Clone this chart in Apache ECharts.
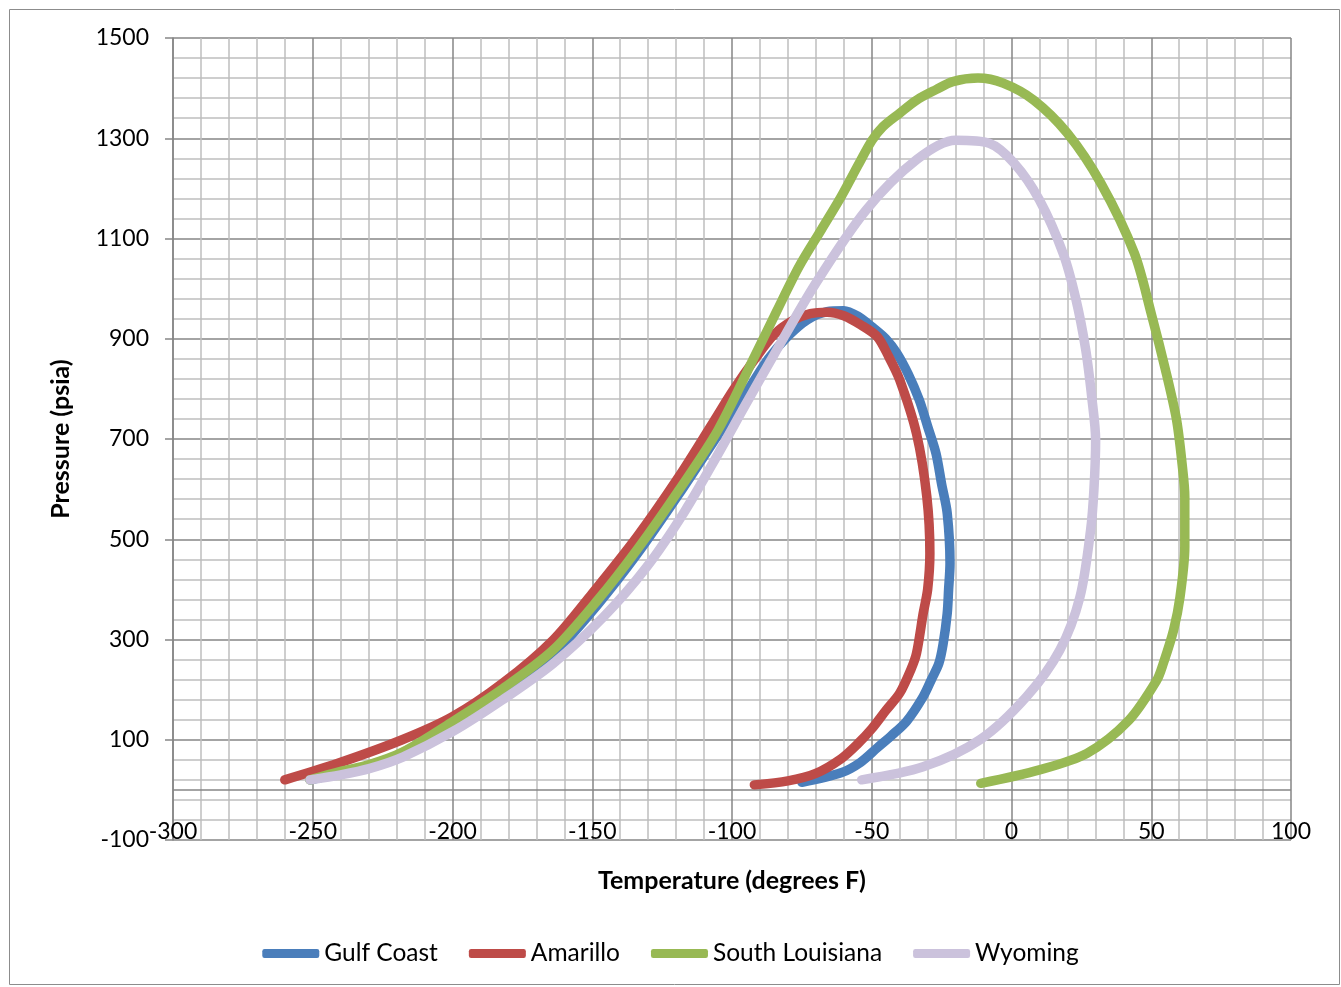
<!DOCTYPE html>
<html>
<head>
<meta charset="utf-8">
<script src="https://cdn.jsdelivr.net/npm/echarts@6/dist/echarts.min.js"></script>
<style>
html,body{margin:0;padding:0;background:#fff;}
#chart{width:1341px;height:987px;}
</style>
</head>
<body>
<div id="chart"></div>
<script>
var seriesNames = ['Gulf Coast', 'Amarillo', 'South Louisiana', 'Wyoming'];

var gulfT = [-251, -240, -230, -218, -200, -182, -164, -148, -134, -119, -105, -94, -87, -80, -73, -66, -60, -55, -50, -45, -41, -37, -33, -30, -27, -25, -23, -22, -22.5, -23, -24.5, -26, -28.5, -31.6, -37.5, -43, -48, -54, -61, -75];
var gulfP = [20, 33, 45, 68, 122, 190, 270, 370, 470, 590, 708, 800, 860, 905, 938, 954, 956, 945, 924, 900, 871, 830, 778, 725, 671, 610, 552, 452, 400, 352, 290, 252, 222, 186, 137, 108, 84, 55, 34, 15];

var amaT = [-260, -241, -218, -200, -182, -164, -150, -134, -119, -107, -99.5, -92, -85, -78, -72, -66, -60, -54, -48, -44, -40, -34, -30.3, -29.2, -30, -31.6, -34, -36, -40, -45, -50, -55, -61, -70, -80, -92];
var amaP = [20, 53, 100, 146, 213, 299, 392, 505, 625, 731, 798, 858, 908, 937, 950, 953, 946, 928, 904, 865, 818, 711, 585, 472, 400, 352, 272, 240, 193, 158, 122, 92, 62, 33, 18, 10];

var slaT = [-251, -240, -230, -218, -200, -182, -164, -148, -134, -119, -105, -92, -84, -76, -68, -61, -55, -50, -46, -40, -34, -27, -21, -12, -3, 8, 20, 32, 44, 50, 55, 59, 61, 62, 62, 60.3, 58, 54.3, 52, 42, 27, 10, -11];
var slaP = [20, 37, 50, 75, 136, 202, 279, 379, 479, 598, 718, 864, 955, 1044, 1118, 1183, 1245, 1295, 1323, 1350, 1376, 1397, 1413, 1420, 1410, 1376, 1310, 1210, 1070, 950, 840, 740, 652, 585, 485, 385, 319, 252, 219, 139, 73, 40, 13];

var wyoT = [-251, -240, -229.5, -217.6, -200, -182, -164, -146, -130.5, -117, -105, -95, -85, -70, -52, -34, -20, -8, 1, 10, 18.5, 23, 26.5, 28.7, 30.1, 29.5, 28.3, 24.5, 17.3, 5.4, -11.3, -31.6, -53.6];
var wyoP = [20, 30, 43, 66, 116, 180, 252, 345, 445, 555, 670, 770, 868, 1011, 1157, 1257, 1296, 1290, 1250, 1177, 1070, 980, 880, 784, 698, 600, 518, 385, 279, 186, 100, 46, 20];

var xTicks = {min: -300, max: 100, interval: 50};
var yTicks = {min: -100, max: 1500, interval: 200};

function pairs(t, p) { return t.map(function (v, i) { return [v, p[i]]; }); }

var colors = ['#4A7EBB', '#BE4B48', '#98B954', '#CBC2DC'];
var allData = [pairs(gulfT, gulfP), pairs(amaT, amaP), pairs(slaT, slaP), pairs(wyoT, wyoP)];

var chart = echarts.init(document.getElementById('chart'), null, {renderer: 'canvas'});
var font = 'Lato, "Open Sans", sans-serif';

var series = seriesNames.map(function (n, i) {
  var s = {
    name: n,
    type: 'line',
    data: allData[i],
    smooth: 0.3,
    showSymbol: false,
    symbol: 'none',
    lineStyle: {color: colors[i], width: 9.5, cap: 'round', join: 'round'},
    itemStyle: {color: colors[i]},
    z: 3 + i
  };
  if (i === 0) {
    s.markLine = {
      silent: true,
      symbol: 'none',
      label: {show: false},
      lineStyle: {color: '#868686', width: 1.5, type: 'solid'},
      data: [{yAxis: 0}],
      z: 1
    };
  }
  return s;
});

function plain(v) { return String(v); }

chart.setOption({
  animation: false,
  color: colors,
  graphic: [{
    type: 'rect',
    shape: {x: 9.5, y: 9.5, width: 1330, height: 975},
    style: {fill: 'none', stroke: '#8c8c8c', lineWidth: 1},
    z: -10
  }],
  grid: {left: 173, right: 50, top: 38, bottom: 147, containLabel: false},
  legend: {
    data: seriesNames,
    bottom: 16,
    left: 'center',
    icon: 'roundRect',
    itemWidth: 57,
    itemHeight: 9,
    itemGap: 31,
    textStyle: {fontFamily: font, fontSize: 24.5, color: '#000'}
  },
  xAxis: {
    type: 'value',
    min: xTicks.min, max: xTicks.max, interval: xTicks.interval,
    name: 'Temperature (degrees F)',
    nameLocation: 'middle',
    nameGap: 28,
    nameTextStyle: {fontFamily: font, fontSize: 25, fontWeight: 'bold', color: '#000'},
    axisLine: {show: false, onZero: false},
    axisTick: {show: false},
    axisLabel: {margin: -20, fontFamily: font, fontSize: 23, color: '#000', formatter: plain},
    splitLine: {show: true, lineStyle: {color: '#868686', width: 1.5}},
    minorTick: {show: false, splitNumber: 5},
    minorSplitLine: {show: true, lineStyle: {color: '#BFBFBF', width: 1.5}}
  },
  yAxis: {
    type: 'value',
    min: yTicks.min, max: yTicks.max, interval: yTicks.interval,
    name: 'Pressure (psia)',
    nameLocation: 'middle',
    nameGap: 100,
    nameRotate: 90,
    nameTextStyle: {fontFamily: font, fontSize: 25, fontWeight: 'bold', color: '#000'},
    axisLine: {show: true, onZero: false, lineStyle: {color: '#868686', width: 1.5}},
    axisTick: {show: true, inside: false, length: 8, lineStyle: {color: '#868686', width: 1.5}},
    axisLabel: {margin: 24, fontFamily: font, fontSize: 23, color: '#000', formatter: plain},
    splitLine: {show: true, lineStyle: {color: '#868686', width: 1.5}},
    minorTick: {show: false, splitNumber: 5},
    minorSplitLine: {show: true, lineStyle: {color: '#BFBFBF', width: 1.5}}
  },
  series: series
});
</script>
</body>
</html>
